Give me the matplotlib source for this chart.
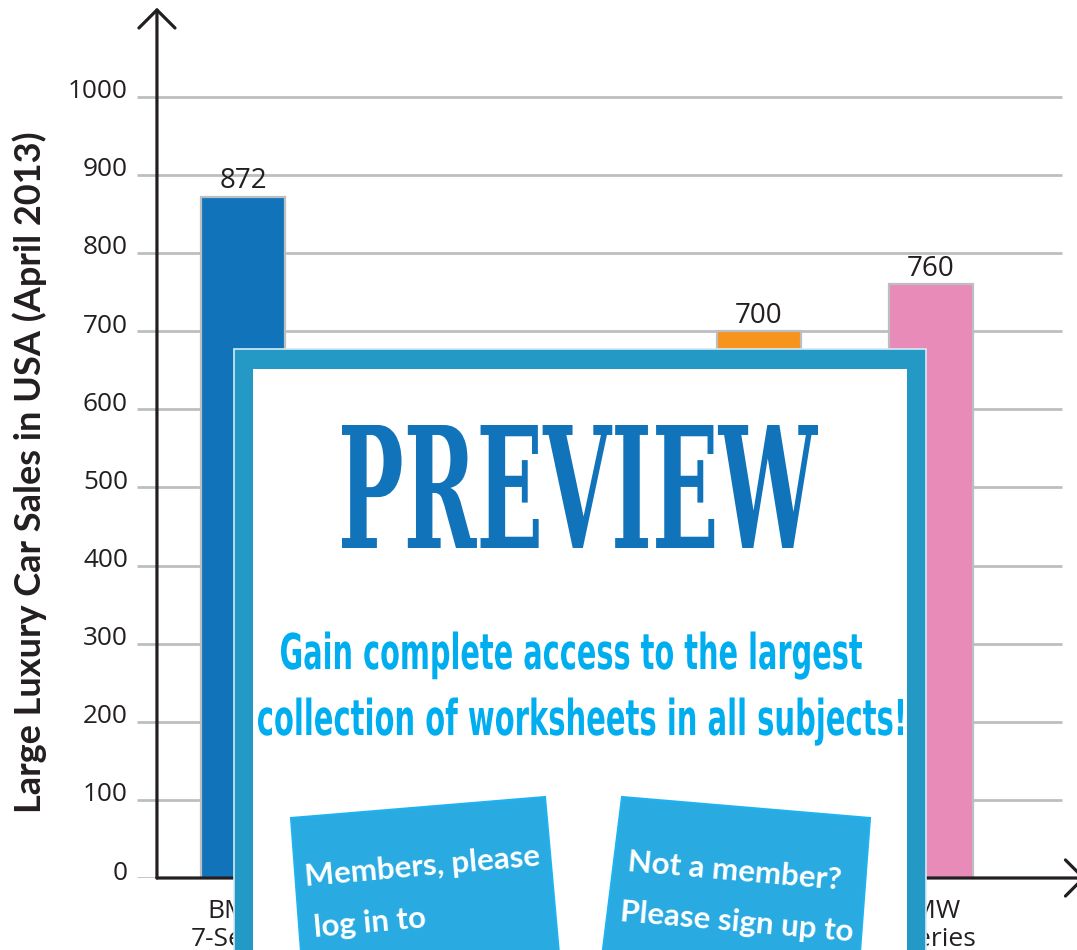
import matplotlib
matplotlib.use("Agg")
import matplotlib.pyplot as plt
from matplotlib.patches import Rectangle, Polygon, PathPatch, FancyArrowPatch
from matplotlib.textpath import TextPath
from matplotlib.font_manager import FontProperties
from matplotlib.transforms import Affine2D, ScaledTranslation

# data (middle two bars are hidden under the preview box in the original)
categories = ["BMW\n7-Series", "Mercedes-Benz\nS-Class", "Audi\nA8", "Lexus\nLS", "BMW\n6-Series"]
sales = [872, 520, 610, 700, 760]
bar_colors = ["#1174bb", "#8cc63f", "#f15a29", "#f7941d", "#e88bb9"]
yticks = [0, 100, 200, 300, 400, 500, 600, 700, 800, 900, 1000]
ylabel = "Large Luxury Car Sales in USA (April 2013)"

W, H = 1077, 950
fig = plt.figure(figsize=(W / 100, H / 100), dpi=100)
plt.rcParams['font.family'] = ['Open Sans', 'DejaVu Sans']

# main axes, placed so that 0 sits at y=878px and 1000 at y=97px
ax = fig.add_axes([137 / W, 72 / H, 940 / W, 875 / H])
ax.set_xlim(-0.616, 4.849)
ax.set_ylim(0, 1120)
for s in ax.spines.values():
    s.set_visible(False)

# grid lines
ax.hlines(yticks, -0.616, 4.76, color="#bcbec0", lw=2, zorder=1)

positions = list(range(len(categories)))
ax.bar(positions, sales, width=0.49, color=bar_colors, edgecolor="#bcbec0",
       linewidth=1.6, zorder=3)
for x, v in zip(positions, sales):
    ax.text(x, v + 11, str(v), ha="center", va="baseline", fontsize=20,
            color="#231f20", zorder=4)

ax.set_yticks(yticks)
ax.set_yticklabels([str(t) for t in yticks], fontsize=18.8, color="#231f20")
ax.tick_params(axis="y", length=0, pad=6.5)
for lab in ax.get_yticklabels():
    lab.set_transform(lab.get_transform() + ScaledTranslation(0, 8 / 100, fig.dpi_scale_trans))

ax.set_xticks([p - 0.02 for p in positions])
ax.set_xticklabels(categories, fontsize=19, color="#231f20", linespacing=1.15)
ax.tick_params(axis="x", length=0, pad=15)

# axis arrows
arr = dict(arrowstyle="->,head_length=0.65,head_width=0.65", color="#231f20",
           lw=2.3, mutation_scale=20, zorder=5, clip_on=False)
ax.add_patch(FancyArrowPatch((-0.5, 0), (-0.5, 1114), shrinkA=0, shrinkB=0, **arr))
ax.add_patch(FancyArrowPatch((-0.5, 0), (4.9, 0), shrinkA=0, shrinkB=0, **arr))

fig.text(30 / W, 1 - 472 / H, ylabel, rotation=90, ha="center", va="center",
         fontsize=26, fontweight="bold", family=["Lato", "DejaVu Sans"], color="#231f20")

# preview overlay drawn in pixel coordinates
ov = fig.add_axes([0, 0, 1, 1], zorder=10)
ov.set_xlim(0, W)
ov.set_ylim(H, 0)
ov.axis("off")
ov.patch.set_alpha(0)

ov.add_patch(Rectangle((234, 349), 692, 640, fc="#2599c6", ec="#d5ebf4", lw=1.2))
ov.add_patch(Rectangle((253, 369), 654, 620, fc="white", ec="none"))


def fit_text(s, x0, x1, top, base, color, family, weight="bold"):
    prop = FontProperties(family=family, weight=weight)
    tp = TextPath((0, 0), s, size=100, prop=prop)
    cap = TextPath((0, 0), "H", size=100, prop=prop).get_extents().ymax
    bb = tp.get_extents()
    tr = Affine2D().translate(-bb.x0, 0).scale((x1 - x0) / bb.width, -(base - top) / cap).translate(x0, base)
    ov.add_patch(PathPatch(tr.transform_path(tp), fc=color, ec="none"))


fit_text("PREVIEW", 342, 818, 425, 548, "#1174bb", "DejaVu Serif")
fit_text("Gain complete access to the largest", 281, 862, 633, 669, "#00aeef", "DejaVu Sans")
fit_text("collection of worksheets in all subjects!", 258, 903, 699, 735, "#00aeef", "DejaVu Sans")

ov.add_patch(Polygon([(291, 818), (545, 797), (560, 965), (302, 965)], closed=True,
                     fc="#29abe2", ec="#1fb2ee", lw=1.5))
ov.add_patch(Polygon([(622, 797), (870, 818), (859, 965), (601, 965)], closed=True,
                     fc="#29abe2", ec="#1fb2ee", lw=1.5))

btn = dict(color="white", fontsize=22.5, family=["Lato", "DejaVu Sans"], fontweight="bold",
           rotation_mode="anchor", va="center")
ov.text(422, 867, "Members, please", ha="center", rotation=5, **btn)
ov.text(314, 928, "log in to", ha="left", rotation=5, **btn)
ov.text(735, 871, "Not a member?", ha="center", rotation=-5, **btn)
ov.text(737, 922, "Please sign up to", ha="center", rotation=-5, **btn)

fig.savefig("out.png", dpi=100)
